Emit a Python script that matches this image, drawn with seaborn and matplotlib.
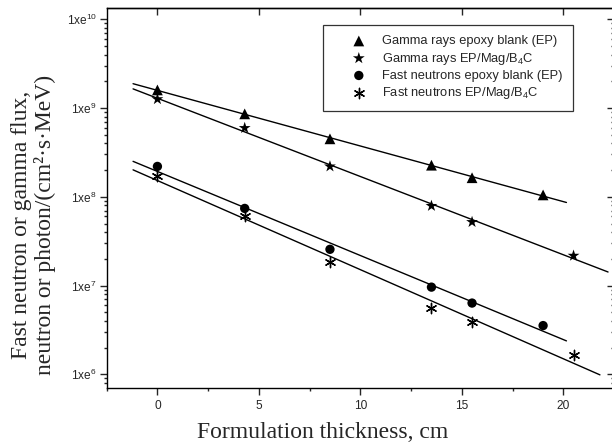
import numpy as np
import pandas as pd
import matplotlib
matplotlib.use("Agg")
import matplotlib.pyplot as plt
import seaborn as sns
from matplotlib.ticker import LogLocator, FuncFormatter, MultipleLocator, NullFormatter, FixedLocator

# ---------------- data ----------------
thickness_gamma_ep = [0, 4.3, 8.5, 13.5, 15.5, 19.0]
gamma_ep = [1.6e9, 8.6e8, 4.5e8, 2.27e8, 1.64e8, 1.05e8]

thickness_gamma_mag = [0, 4.3, 8.5, 13.5, 15.5, 20.5]
gamma_mag = [1.26e9, 5.96e8, 2.2e8, 7.9e7, 5.2e7, 2.17e7]

thickness_neut_ep = [0, 4.3, 8.5, 13.5, 15.5, 19.0]
neut_ep = [2.2e8, 7.4e7, 2.56e7, 9.6e6, 6.35e6, 3.54e6]

thickness_neut_mag = [0, 4.3, 8.5, 13.5, 15.5, 20.5]
neut_mag = [1.71e8, 6.0e7, 1.86e7, 5.6e6, 3.9e6, 1.67e6]

series_labels = [
    "Gamma rays epoxy blank (EP)",
    "Gamma rays EP/Mag/B$_4$C",
    "Fast neutrons epoxy blank (EP)",
    "Fast neutrons EP/Mag/B$_4$C",
]
x_ticks = [0, 5, 10, 15, 20]
y_tick_exponents = [6, 7, 8, 9, 10]

# ---------------- style ----------------
sns.set_style("ticks")
plt.rcParams["font.family"] = ["Liberation Sans", "DejaVu Sans"]
plt.rcParams["mathtext.fontset"] = "custom"
plt.rcParams["mathtext.rm"] = "Liberation Sans"
plt.rcParams["mathtext.it"] = "Liberation Sans:italic"
plt.rcParams["mathtext.bf"] = "Liberation Sans:bold"
plt.rcParams["axes.linewidth"] = 1.0

fig = plt.figure(figsize=(6.12, 4.46), dpi=100)
ax = fig.add_axes([0.1743, 0.1307, 0.8292, 0.8507])
ax.set_yscale("log")

series = [
    (thickness_gamma_ep, gamma_ep, "^", 60, 20.15),
    (thickness_gamma_mag, gamma_mag, "*", 80, 22.2),
    (thickness_neut_ep, neut_ep, "o", 45, 20.15),
    (thickness_neut_mag, neut_mag, (6, 2, 0), 55, 21.8),
]

fit_start = -1.2
for (xs, ys, mk, size, fit_end), lab in zip(series, series_labels):
    xs_a = np.asarray(xs, float)
    ly = np.log10(np.asarray(ys, float))
    slope, icpt = np.polyfit(xs_a, ly, 1)
    xf = np.array([fit_start, fit_end])
    fit_df = pd.DataFrame({"x": xf, "y": 10 ** (icpt + slope * xf)})
    sns.lineplot(data=fit_df, x="x", y="y", ax=ax, color="black", lw=1.0,
                 legend=False, sort=False, estimator=None)
    df = pd.DataFrame({"x": xs, "y": ys})
    if isinstance(mk, tuple):
        sns.scatterplot(data=df, x="x", y="y", ax=ax, marker=mk, s=size,
                        color="black", edgecolor="black", linewidth=1.0,
                        label=lab, zorder=3)
    else:
        sns.scatterplot(data=df, x="x", y="y", ax=ax, marker=mk, s=size,
                        color="black", edgecolor="none", linewidth=0,
                        label=lab, zorder=3)

ax.set_xlim(-2.5, 22.5)
ax.set_ylim(10 ** 5.849, 10 ** 10.124)

# x ticks (bottom, outward)
ax.xaxis.set_major_locator(FixedLocator(x_ticks))
ax.xaxis.set_minor_locator(MultipleLocator(2.5))
ax.tick_params(axis="x", which="major", direction="out", length=5, width=1,
               labelsize=8.6, pad=4, top=False)
ax.tick_params(axis="x", which="minor", direction="out", length=2.5, width=1, top=False)

# y ticks (left, outward)
ax.yaxis.set_major_locator(FixedLocator([10.0 ** e for e in y_tick_exponents]))
ax.yaxis.set_minor_locator(LogLocator(base=10, subs=np.arange(2, 10), numticks=20))
ax.yaxis.set_minor_formatter(NullFormatter())
ax.yaxis.set_major_formatter(FuncFormatter(
    lambda v, p: "1xe$^{%d}$" % int(round(np.log10(v)))))
ax.tick_params(axis="y", which="major", direction="out", length=5, width=1,
               labelsize=8.6, pad=2, right=False)
ax.tick_params(axis="y", which="minor", direction="out", length=2.5, width=1, right=False)

for sp in ax.spines.values():
    sp.set_visible(True)
    sp.set_linewidth(1.0)
    sp.set_color("black")

# top axis: major ticks inward, no labels
top = ax.secondary_xaxis("top")
top.xaxis.set_major_locator(FixedLocator(x_ticks))
top.tick_params(axis="x", which="major", direction="in", length=5, width=1,
                labeltop=False)
top.tick_params(axis="x", which="minor", length=0)

# right axis: log ticks inward, no labels
right = ax.secondary_yaxis("right")
right.yaxis.set_major_locator(FixedLocator([10.0 ** e for e in y_tick_exponents]))
right.yaxis.set_minor_locator(LogLocator(base=10, subs=np.arange(2, 10), numticks=20))
right.yaxis.set_minor_formatter(NullFormatter())
right.tick_params(axis="y", which="major", direction="in", length=5, width=1,
                  labelright=False)
right.tick_params(axis="y", which="minor", direction="in", length=2.5, width=1,
                  labelright=False)

# labels
ax.set_xlabel("Formulation thickness, cm", family=["Liberation Serif"],
              fontsize=17)
ax.xaxis.set_label_coords(0.426, -0.09)
ax.set_ylabel("Fast neutron or gamma flux,\nneutron or photon/(cm²·s·MeV)",
              family=["Liberation Serif"], fontsize=17, linespacing=1.1)
ax.yaxis.set_label_coords(-0.1, 0.429)

# legend
h, l = ax.get_legend_handles_labels()
leg = ax.legend(h, l, loc="upper left", bbox_to_anchor=(0.4256, 0.956),
                borderaxespad=0, frameon=True, fancybox=False, fontsize=9.3,
                handlelength=4.0, handletextpad=-0.2, borderpad=0.8,
                labelspacing=0.25, edgecolor="black")
leg.get_frame().set_linewidth(0.9)

fig.savefig("out.png", dpi=100)
